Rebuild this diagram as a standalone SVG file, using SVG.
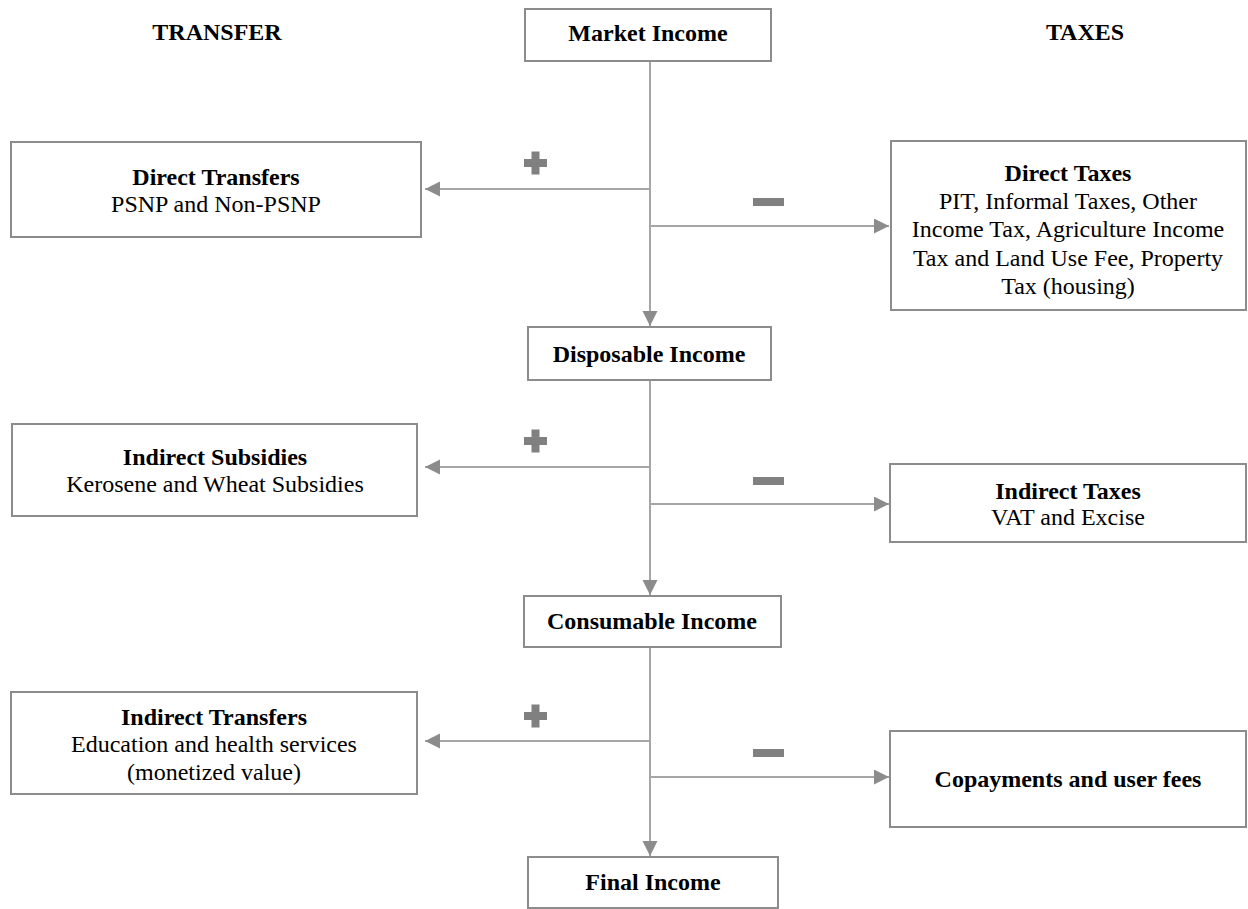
<svg xmlns="http://www.w3.org/2000/svg" width="1248" height="909" viewBox="0 0 1248 909">
  <style>
    text { font-family: 'Liberation Serif', 'Tinos', 'DejaVu Serif', serif; font-size: 24px; fill: #000; text-anchor: middle; }
    .b { font-weight: bold; }
    .box { fill: #fff; stroke: #8c8c8c; stroke-width: 2; }
    .conn { stroke: #a6a6a6; stroke-width: 2; fill: none; }
    .sign { fill: #808080; }
  </style>
  <defs>
    <marker id="arr" markerUnits="userSpaceOnUse" markerWidth="16" markerHeight="16" viewBox="0 0 16 16" refX="15" refY="7.5" orient="auto">
      <path d="M0,0 L15,7.5 L0,15 z" fill="#8c8c8c"/>
    </marker>
  </defs>
  <rect width="1248" height="909" fill="#fff"/>

  <g id="headers">
    <text class="b" x="217" y="40">TRANSFER</text>
    <text class="b" x="1085" y="40">TAXES</text>
  </g>

  <g id="connectors">
    <line class="conn" x1="650" y1="61" x2="650" y2="326" marker-end="url(#arr)"/>
    <line class="conn" x1="650" y1="189" x2="425" y2="189" marker-end="url(#arr)"/>
    <line class="conn" x1="650" y1="226" x2="889" y2="226" marker-end="url(#arr)"/>
    <line class="conn" x1="650" y1="380" x2="650" y2="595" marker-end="url(#arr)"/>
    <line class="conn" x1="650" y1="467" x2="425" y2="467" marker-end="url(#arr)"/>
    <line class="conn" x1="650" y1="504" x2="889" y2="504" marker-end="url(#arr)"/>
    <line class="conn" x1="650" y1="647" x2="650" y2="856" marker-end="url(#arr)"/>
    <line class="conn" x1="650" y1="741" x2="425" y2="741" marker-end="url(#arr)"/>
    <line class="conn" x1="650" y1="777" x2="889" y2="777" marker-end="url(#arr)"/>
  </g>

  <g id="signs">
    <path class="sign" d="M531.5,151.5 h8 v7.5 h7.5 v8 h-7.5 v7.5 h-8 v-7.5 h-7.5 v-8 h7.5 z"/>
    <rect class="sign" x="753" y="198" width="31" height="8"/>
    <path class="sign" d="M531.5,429.5 h8 v7.5 h7.5 v8 h-7.5 v7.5 h-8 v-7.5 h-7.5 v-8 h7.5 z"/>
    <rect class="sign" x="753" y="477" width="31" height="8"/>
    <path class="sign" d="M531.5,704.5 h8 v7.5 h7.5 v8 h-7.5 v7.5 h-8 v-7.5 h-7.5 v-8 h7.5 z"/>
    <rect class="sign" x="753" y="749" width="31" height="8"/>
  </g>

  <g id="market-income">
    <rect class="box" x="525" y="9" width="246" height="52"/>
    <text class="b" x="648" y="41">Market Income</text>
  </g>

  <g id="direct-transfers">
    <rect class="box" x="11" y="142" width="410" height="95"/>
    <text class="b" x="216" y="185">Direct Transfers</text>
    <text x="216" y="212">PSNP and Non-PSNP</text>
  </g>

  <g id="direct-taxes">
    <rect class="box" x="891" y="141" width="355" height="169"/>
    <text class="b" x="1068" y="181">Direct Taxes</text>
    <text x="1068" y="209">PIT, Informal Taxes, Other</text>
    <text x="1068" y="237">Income Tax, Agriculture Income</text>
    <text x="1068" y="265.5">Tax and Land Use Fee, Property</text>
    <text x="1068" y="293.5">Tax (housing)</text>
  </g>

  <g id="disposable-income">
    <rect class="box" x="528" y="327" width="243" height="53"/>
    <text class="b" x="649" y="362">Disposable Income</text>
  </g>

  <g id="indirect-subsidies">
    <rect class="box" x="12" y="424" width="405" height="92"/>
    <text class="b" x="215" y="465">Indirect Subsidies</text>
    <text x="215" y="492">Kerosene and Wheat Subsidies</text>
  </g>

  <g id="indirect-taxes">
    <rect class="box" x="890" y="464" width="356" height="78"/>
    <text class="b" x="1068" y="499">Indirect Taxes</text>
    <text x="1068" y="525">VAT and Excise</text>
  </g>

  <g id="consumable-income">
    <rect class="box" x="524" y="596" width="257" height="51"/>
    <text class="b" x="652" y="629">Consumable Income</text>
  </g>

  <g id="indirect-transfers">
    <rect class="box" x="11" y="692" width="406" height="102"/>
    <text class="b" x="214" y="725">Indirect Transfers</text>
    <text x="214" y="752">Education and health services</text>
    <text x="214" y="780">(monetized value)</text>
  </g>

  <g id="copayments">
    <rect class="box" x="890" y="731" width="356" height="96"/>
    <text class="b" x="1068" y="787">Copayments and user fees</text>
  </g>

  <g id="final-income">
    <rect class="box" x="528" y="857" width="250" height="51"/>
    <text class="b" x="653" y="890">Final Income</text>
  </g>
</svg>
